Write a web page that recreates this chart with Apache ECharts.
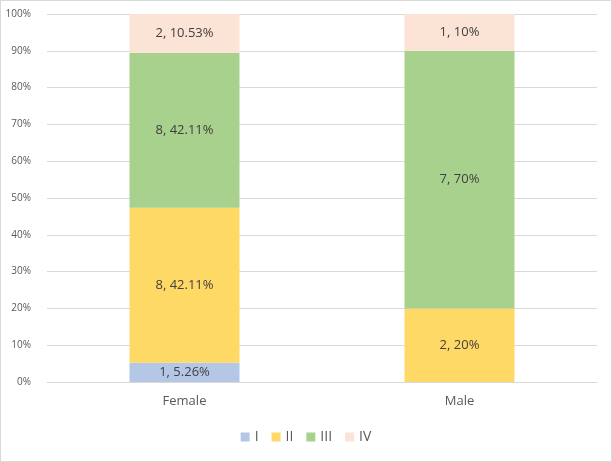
<!DOCTYPE html>
<html><head><meta charset="utf-8">
<script src="https://cdn.jsdelivr.net/npm/echarts@6/dist/echarts.min.js"></script>
<style>html,body{margin:0;padding:0;background:#fff}#c{width:612px;height:462px;box-sizing:border-box;border:1px solid #d9d9d9}</style>
</head><body><div id="c"></div>
<script>
const categories = ['Female', 'Male'];
const seriesNames = ['I', 'II', 'III', 'IV'];
const countsI = [1, 0];
const countsII = [8, 2];
const countsIII = [8, 7];
const countsIV = [2, 1];
const pctI = [5.26, 0];
const pctII = [42.11, 20];
const pctIII = [42.11, 70];
const pctIV = [10.53, 10];
const colors = ['#B4C7E7', '#FFD966', '#A9D18E', '#FBE3D6'];

const counts = [countsI, countsII, countsIII, countsIV];
const pcts = [pctI, pctII, pctIII, pctIV];
const chart = echarts.init(document.getElementById('c'));
chart.setOption({
  animation: false,
  textStyle: { fontFamily: 'Open Sans, Liberation Sans, sans-serif' },
  legend: {
    bottom: 12, left: 'center', itemWidth: 9, itemHeight: 9, itemGap: 13,
    icon: 'rect',
    textStyle: { color: '#595959', fontSize: 14, padding: [0, 0, 0, 0] },
    data: seriesNames
  },
  grid: { left: 46, right: 14, top: 13, bottom: 79 },
  xAxis: {
    type: 'category', data: categories,
    axisLine: { lineStyle: { color: '#d9d9d9' } },
    axisTick: { show: false },
    axisLabel: { color: '#595959', fontSize: 13, margin: 13 }
  },
  yAxis: {
    type: 'value', min: 0, max: 100, interval: 10,
    axisLabel: { formatter: '{value}%', color: '#595959', fontSize: 10, margin: 16 },
    splitLine: { lineStyle: { color: '#d9d9d9' } },
    axisLine: { show: false }, axisTick: { show: false }
  },
  series: seriesNames.map((n, i) => ({
    name: n, type: 'bar', stack: 'total', barWidth: '40%',
    itemStyle: { color: colors[i] },
    label: {
      show: true, position: 'inside', color: '#404040', fontSize: 13,
      formatter: p => counts[i][p.dataIndex] === 0 ? '' : counts[i][p.dataIndex] + ', ' + pcts[i][p.dataIndex] + '%'
    },
    data: pcts[i]
  }))
});
</script></body></html>
